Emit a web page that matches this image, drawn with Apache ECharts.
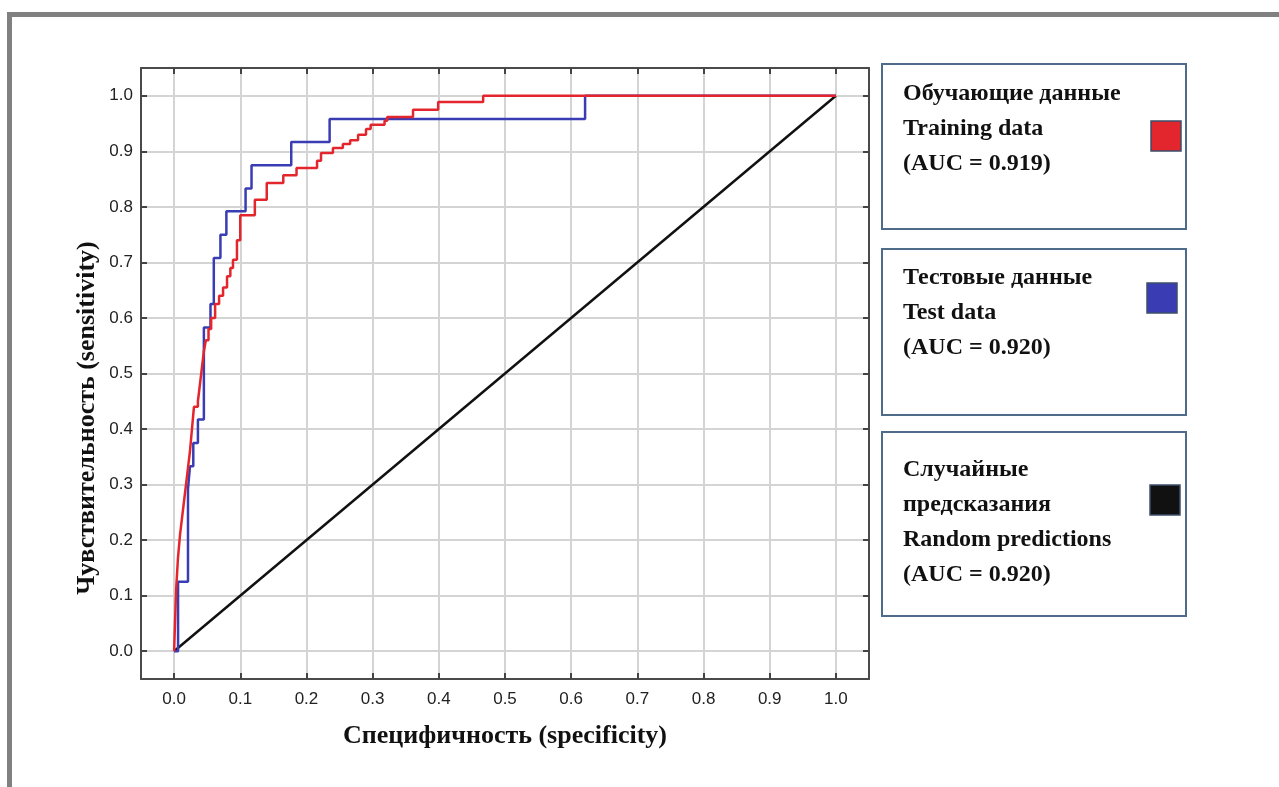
<!DOCTYPE html>
<html><head><meta charset="utf-8">
<script src="https://cdn.jsdelivr.net/npm/echarts@6/dist/echarts.min.js"></script>
<style>html,body{margin:0;padding:0;background:#fff;}#c{width:1279px;height:787px;}</style>
</head><body><div id="c"></div>
<script>
// ---- data ----
const tickValues = [0, 0.1, 0.2, 0.3, 0.4, 0.5, 0.6, 0.7, 0.8, 0.9, 1.0];
const xAxisTitle = 'Специфичность (specificity)';
const yAxisTitle = 'Чувствительность (sensitivity)';

const trainFpr = [0, 0.003, 0.006, 0.009, 0.012, 0.015, 0.018, 0.021, 0.024, 0.027, 0.030, 0.036, 0.039, 0.042, 0.045, 0.048, 0.052, 0.056, 0.062, 0.068, 0.074, 0.080, 0.085, 0.089, 0.095, 0.100, 0.122, 0.140, 0.165, 0.185, 0.216, 0.222, 0.240, 0.255, 0.266, 0.278, 0.290, 0.297, 0.318, 0.322, 0.361, 0.399, 0.467, 1.0];
const trainTpr = [0, 0.110, 0.170, 0.210, 0.240, 0.270, 0.300, 0.330, 0.360, 0.400, 0.440, 0.450, 0.480, 0.510, 0.540, 0.560, 0.580, 0.600, 0.625, 0.640, 0.655, 0.675, 0.690, 0.705, 0.740, 0.785, 0.813, 0.843, 0.857, 0.870, 0.883, 0.897, 0.906, 0.913, 0.920, 0.930, 0.940, 0.948, 0.955, 0.962, 0.975, 0.989, 1.0, 1.0];

const testFpr = [0, 0.006, 0.021, 0.024, 0.029, 0.036, 0.045, 0.055, 0.060, 0.070, 0.079, 0.108, 0.117, 0.177, 0.235, 0.621, 1.0];
const testTpr = [0, 0.125, 0.292, 0.333, 0.375, 0.417, 0.583, 0.625, 0.708, 0.750, 0.792, 0.833, 0.875, 0.917, 0.958, 1.0, 1.0];

const randomFpr = [0, 1];
const randomTpr = [0, 1];

const seriesNames = ['Training data', 'Test data', 'Random predictions'];
const legendLines = [
  ['Обучающие данные', 'Training data', '(AUC = 0.919)'],
  ['Тестовые данные', 'Test data', '(AUC = 0.920)'],
  ['Случайные', 'предсказания', 'Random predictions', '(AUC = 0.920)']
];

// ---- styles / layout ----
const RED = '#e3262d', BLUE = '#3a3cb3', BLACK = '#111111';
const legendColors = [RED, BLUE, BLACK];
const legendBoxes = [
  {x: 882, y: 64, w: 304, h: 165, sq: [1151, 121], lineY: 94},
  {x: 882, y: 249, w: 304, h: 166, sq: [1147, 283], lineY: 278},
  {x: 882, y: 432, w: 304, h: 184, sq: [1150, 485], lineY: 470}
];
const zip = (a, b) => a.map((v, i) => [v, b[i]]);

const graphics = [
  {type: 'rect', shape: {x: 7, y: 12, width: 5, height: 775}, style: {fill: '#808080'}, silent: true},
  {type: 'rect', shape: {x: 7, y: 12, width: 1272, height: 5}, style: {fill: '#808080'}, silent: true},
  {type: 'text', x: 87, y: 418, rotation: Math.PI / 2,
   style: {text: yAxisTitle, fill: '#111', font: 'bold 26px "Liberation Serif"', textAlign: 'center', textVerticalAlign: 'middle'}, silent: true}
];
legendBoxes.forEach((b, i) => {
  graphics.push({type: 'rect', shape: {x: b.x, y: b.y, width: b.w, height: b.h},
    style: {fill: '#fff', stroke: '#4f6b8a', lineWidth: 2}, silent: true});
  legendLines[i].forEach((t, k) => {
    graphics.push({type: 'text', x: b.x + 21, y: b.lineY + k * 35,
      style: {text: t, fill: '#111', font: 'bold 24px "Liberation Serif"', textVerticalAlign: 'middle', textAlign: 'left'}, silent: true});
  });
  graphics.push({type: 'rect', shape: {x: b.sq[0], y: b.sq[1], width: 30, height: 30},
    style: {fill: legendColors[i], stroke: '#3d4f6b', lineWidth: 1.5}, silent: true});
});

const axisLineStyle = {color: '#4a4a4a', width: 2};
const tickStyle = {inside: true, length: 6, customValues: tickValues, lineStyle: {color: '#444', width: 2}};
const fmt = v => Number(v).toFixed(1);

const option = {
  backgroundColor: '#fff',
  animation: false,
  graphic: graphics,
  grid: {left: 141, top: 68, width: 728, height: 611, containLabel: false},
  xAxis: [
    {type: 'value', min: -0.05, max: 1.05, position: 'bottom',
     axisLine: {show: true, onZero: false, lineStyle: axisLineStyle},
     axisTick: tickStyle,
     axisLabel: {customValues: tickValues, formatter: fmt, fontFamily: 'Liberation Sans', fontSize: 17, color: '#222', margin: 12},
     splitLine: {show: true, lineStyle: {color: '#d4d4d4', width: 2}},
     name: xAxisTitle, nameLocation: 'middle', nameGap: 44,
     nameTextStyle: {fontFamily: 'Liberation Serif', fontWeight: 'bold', fontSize: 26, color: '#111'}},
    {type: 'value', min: -0.05, max: 1.05, position: 'top',
     axisLine: {show: true, onZero: false, lineStyle: axisLineStyle},
     axisTick: tickStyle, axisLabel: {show: false}, splitLine: {show: false}}
  ],
  yAxis: [
    {type: 'value', min: -0.05, max: 1.05, position: 'left',
     axisLine: {show: true, onZero: false, lineStyle: axisLineStyle},
     axisTick: tickStyle,
     axisLabel: {customValues: tickValues, formatter: fmt, fontFamily: 'Liberation Sans', fontSize: 17, color: '#222', margin: 8},
     splitLine: {show: true, lineStyle: {color: '#d4d4d4', width: 2}}},
    {type: 'value', min: -0.05, max: 1.05, position: 'right',
     axisLine: {show: true, onZero: false, lineStyle: axisLineStyle},
     axisTick: tickStyle, axisLabel: {show: false}, splitLine: {show: false}}
  ],
  series: [
    {name: seriesNames[2], type: 'line', data: zip(randomFpr, randomTpr), symbol: 'none',
     lineStyle: {color: BLACK, width: 2.5}, silent: true},
    {name: seriesNames[1], type: 'line', step: 'end', data: zip(testFpr, testTpr), symbol: 'none',
     lineStyle: {color: BLUE, width: 2.5}, silent: true},
    {name: seriesNames[0], type: 'line', step: 'end', data: zip(trainFpr, trainTpr), symbol: 'none',
     lineStyle: {color: RED, width: 2.5}, silent: true}
  ]
};
const chart = echarts.init(document.getElementById('c'));
chart.setOption(option);
</script></body></html>
